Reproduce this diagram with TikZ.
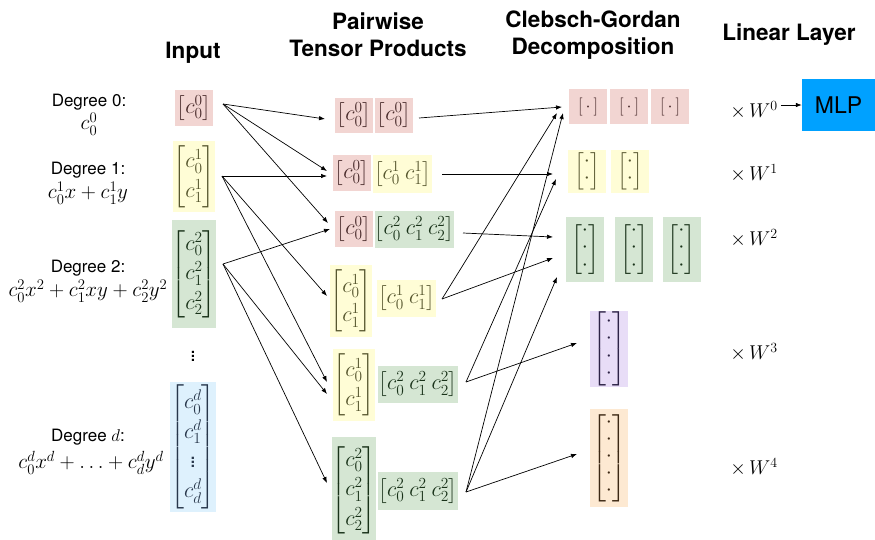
\RequirePackage{fix-cm}
\documentclass[tikz,border=0pt]{standalone}
\usepackage{amsmath}
\usepackage[no-math]{fontspec}
\setmainfont{TeX Gyre Heros}
\usetikzlibrary{arrows.meta}
\definecolor{pk}{RGB}{242,213,210}
\definecolor{yl}{RGB}{255,253,214}
\definecolor{gr}{RGB}{213,230,211}
\definecolor{bl}{RGB}{222,241,253}
\definecolor{pu}{RGB}{232,221,247}
\definecolor{orn}{RGB}{253,233,210}
\definecolor{mlpc}{RGB}{0,161,255}
\definecolor{pkt}{RGB}{70,40,40}
\definecolor{ylt}{RGB}{85,85,45}
\definecolor{grt}{RGB}{25,50,25}
\definecolor{blt}{RGB}{40,55,75}
\definecolor{put}{RGB}{45,35,70}
\definecolor{ort}{RGB}{60,40,20}
\newcommand{\mycol}[1]{\renewcommand\arraystretch{1.12}\begin{bmatrix}#1\end{bmatrix}}
\newcommand{\myrow}[1]{\setlength\arraycolsep{2.5pt}\begin{bmatrix}#1\end{bmatrix}}
\newcommand{\mydots}[1]{\renewcommand\arraystretch{0.65}\begin{bmatrix}#1\end{bmatrix}}
\tikzset{
  hdr/.style={font=\fontsize{22.5}{27}\selectfont\bfseries, align=center, inner sep=0pt},
  lab/.style={font=\fontsize{17}{20}\selectfont, inner sep=0pt},
  lmath/.style={font=\fontsize{21}{25}\selectfont, inner sep=0pt},
  mbox/.style={inner sep=0pt, minimum width=38, font=\fontsize{22}{26.4}\selectfont},
  pkbox/.style={mbox, fill=pk, text=pkt},
  ylbox/.style={mbox, fill=yl, text=ylt},
  grbox/.style={mbox, fill=gr, text=grt},
  blbox/.style={mbox, fill=bl, text=blt},
  pubox/.style={mbox, fill=pu, text=put},
  orbox/.style={mbox, fill=orn, text=ort},
  wlab/.style={font=\fontsize{20}{24}\selectfont, inner sep=3pt},
  arr/.style={-{Latex[length=6pt,width=4.5pt]}, line width=0.7pt, black}
}
\begin{document}
\begin{tikzpicture}[x=1pt,y=-1pt]
\useasboundingbox (0,0) rectangle (875,539);
% headers
\node[hdr] (hin) at (193,53) {Input};
\node[hdr] (htp) at (378,35) {Pairwise\\Tensor Products};
\node[hdr] (hcg) at (593,35) {Clebsch-Gordan\\Decomposition};
\node[hdr] (hll) at (789,35) {Linear Layer};
% input labels
\node[lab] (l0a) at (89,102) {Degree 0:};
\node[lmath] (l0b) at (89,124) {$c^0_0$};
\node[lab] (l1a) at (88,170) {Degree 1:};
\node[lmath] (l1b) at (88,193) {$c^1_0x+c^1_1y$};
\node[lab] (l2a) at (88,268) {Degree 2:};
\node[lmath] (l2b) at (88,291) {$c^2_0x^2+c^2_1xy+c^2_2y^2$};
\node[lab] (lda) at (88,437) {Degree $d$:};
\node[lmath] (ldb) at (91,463) {$c^d_0x^d+\ldots+c^d_dy^d$};
% input boxes
\node[pkbox, minimum height=36] (i0) at (194,108) {$\begin{bmatrix}c^0_0\end{bmatrix}$};
\node[ylbox, minimum height=71] (i1) at (194,176.5) {$\mycol{c^1_0\\c^1_1}$};
\node[grbox, minimum height=108] (i2) at (194,274) {$\mycol{c^2_0\\c^2_1\\c^2_2}$};
\node[lab, font=\fontsize{21}{24}\selectfont] (idots) at (193,353) {$\vdots$};
\node[blbox, minimum height=130] (id) at (193,447) {$\mycol{c^d_0\\c^d_1\\\vdots\\c^d_d}$};
% pairwise products
\node[pkbox, minimum height=35] (a1) at (354,115.5) {$\begin{bmatrix}c^0_0\end{bmatrix}$};
\node[pkbox, minimum height=35] (b1) at (394,115.5) {$\begin{bmatrix}c^0_0\end{bmatrix}$};
\node[pkbox, minimum height=36] (a2) at (352,173) {$\begin{bmatrix}c^0_0\end{bmatrix}$};
\node[ylbox, minimum height=38, minimum width=59] (b2) at (402.5,174) {$\myrow{c^1_0 & c^1_1}$};
\node[pkbox, minimum height=36] (a3) at (354,229) {$\begin{bmatrix}c^0_0\end{bmatrix}$};
\node[grbox, minimum height=37, minimum width=79] (b3) at (414.5,229.5) {$\myrow{c^2_0 & c^2_1 & c^2_2}$};
\node[ylbox, minimum height=72] (a4) at (351,301) {$\mycol{c^1_0\\c^1_1}$};
\node[ylbox, minimum height=37, minimum width=59] (b4) at (406.5,298.5) {$\myrow{c^1_0 & c^1_1}$};
\node[ylbox, minimum height=72] (a5) at (354,385) {$\mycol{c^1_0\\c^1_1}$};
\node[grbox, minimum height=37, minimum width=79] (b5) at (418,384.5) {$\myrow{c^2_0 & c^2_1 & c^2_2}$};
\node[grbox, minimum height=106] (a6) at (354,490) {$\mycol{c^2_0\\c^2_1\\c^2_2}$};
\node[grbox, minimum height=38, minimum width=79] (b6) at (418,491) {$\myrow{c^2_0 & c^2_1 & c^2_2}$};
% CG outputs
\node[pkbox, minimum height=35, font=\fontsize{18}{22}\selectfont] (r1) at (588,106.5) {$[\,\cdot\,]$};
\node[pkbox, minimum height=35, font=\fontsize{18}{22}\selectfont] (r2) at (629,106.5) {$[\,\cdot\,]$};
\node[pkbox, minimum height=35, font=\fontsize{18}{22}\selectfont] (r3) at (670,106.5) {$[\,\cdot\,]$};
\node[ylbox, minimum height=43] (y1) at (587,171.5) {$\mydots{\cdot\\\cdot}$};
\node[ylbox, minimum height=43] (y2) at (630,171.5) {$\mydots{\cdot\\\cdot}$};
\node[grbox, minimum height=65] (g1) at (585,249.5) {$\mydots{\cdot\\\cdot\\\cdot}$};
\node[grbox, minimum height=65] (g2) at (634,249.5) {$\mydots{\cdot\\\cdot\\\cdot}$};
\node[grbox, minimum height=65] (g3) at (681.5,249.5) {$\mydots{\cdot\\\cdot\\\cdot}$};
\node[pubox, minimum height=76] (p1) at (609,349) {$\mydots{\cdot\\\cdot\\\cdot\\\cdot}$};
\node[orbox, minimum height=98] (o1) at (609,458) {$\mydots{\cdot\\\cdot\\\cdot\\\cdot\\\cdot}$};
% linear layer
\node[wlab] (w0) at (754,110) {$\times\,W^0$};
\node[wlab] (w1) at (754,173) {$\times\,W^1$};
\node[wlab] (w2) at (754,238) {$\times\,W^2$};
\node[wlab] (w3) at (754,352) {$\times\,W^3$};
\node[wlab] (w4) at (754,467) {$\times\,W^4$};
\node[fill=mlpc, minimum width=73, minimum height=52, inner sep=0pt, font=\fontsize{23}{27}\selectfont] (mlp) at (838.5,105) {MLP};
\draw[arr] (w0.east |- mlp.west) -- (mlp.west);
% connector anchor points
\coordinate (s0) at (223,104);
\coordinate (s1) at (222,176);
\coordinate (s2) at (223,264);
\coordinate (e00) at (325,119);
\coordinate (e02) at (327,171);
\coordinate (e03) at (328,223);
\coordinate (e12) at (327,176);
\coordinate (e14) at (327,296);
\coordinate (e15) at (327,382);
\coordinate (e23) at (330,229);
\coordinate (e25) at (327,394);
\coordinate (e26) at (327,483);
\draw[arr] (s0) -- (e00);
\draw[arr] (s0) -- (e02);
\draw[arr] (s0) -- (e03);
\draw[arr] (s1) -- (e12);
\draw[arr] (s1) -- (e14);
\draw[arr] (s1) -- (e15);
\draw[arr] (s2) -- (e23);
\draw[arr] (s2) -- (e25);
\draw[arr] (s2) -- (e26);
\coordinate (t1) at (419,118);
\coordinate (t2) at (442,174);
\coordinate (t3) at (463,233);
\coordinate (t4) at (442,299);
\coordinate (t5) at (466,382);
\coordinate (t6) at (466,492);
\coordinate (cr1) at (562,107);
\coordinate (cr4) at (557,113);
\coordinate (cr6) at (563,113);
\coordinate (cy2) at (553,174);
\coordinate (cy5) at (556,179);
\coordinate (cg3) at (553,237);
\coordinate (cg4) at (553,258);
\coordinate (cg6) at (557,277);
\coordinate (cp5) at (577,343);
\coordinate (co6) at (577,454);
\draw[arr] (t1) -- (cr1);
\draw[arr] (t2) -- (cy2);
\draw[arr] (t3) -- (cg3);
\draw[arr] (t4) -- (cr4);
\draw[arr] (t4) -- (cg4);
\draw[arr] (t5) -- (cy5);
\draw[arr] (t5) -- (cp5);
\draw[arr] (t6) -- (cr6);
\draw[arr] (t6) -- (cg6);
\draw[arr] (t6) -- (co6);
\end{tikzpicture}
\end{document}
